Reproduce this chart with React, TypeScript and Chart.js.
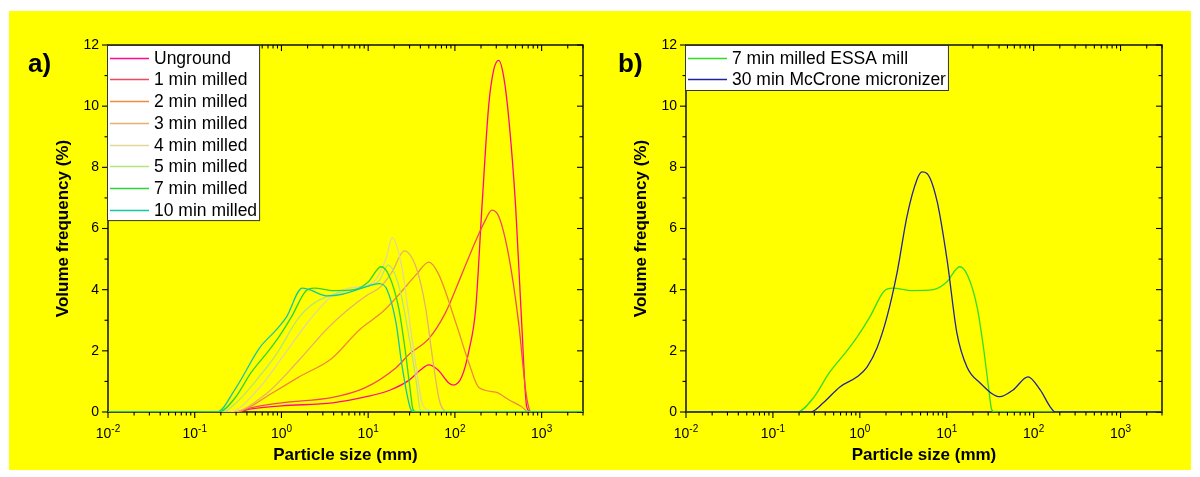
import React, { useEffect, useRef } from 'react';
import { Chart, registerables } from 'chart.js';

Chart.register(...registerables);

// ---------- data ----------
const sizeMin = 0.01;
const sizeMax = 3000;
const freqMax = 12;
const yTickValues = [0, 2, 4, 6, 8, 10, 12];
const xDecadeExponents = [-2, -1, 0, 1, 2, 3];
const xTitle = 'Particle size (mm)';
const yTitle = 'Volume frequency (%)';

// [particle size (µm), volume frequency (%)]
const unground = [[0.01, 0], [0.29, 0], [0.45, 0.1], [1.0, 0.2], [3.9, 0.3], [9.5, 0.5], [18, 0.72], [30, 1.05], [40, 1.37], [50, 1.54], [64, 1.37], [85, 0.95], [97, 0.88], [120, 1.15], [145, 2.0], [174, 3.4], [205, 6.7], [245, 10.0], [281, 11.2], [320, 11.5], [366, 10.95], [418, 9.6], [502, 6.7], [589, 2.9], [673, 0.17], [748, 0], [3000, 0]];
const min1 = [[0.01, 0], [0.3, 0], [0.43, 0.13], [1.0, 0.3], [3.9, 0.48], [9, 0.78], [21, 1.45], [30, 1.9], [50, 2.4], [78, 3.25], [120, 4.5], [174, 5.6], [227, 6.3], [266, 6.6], [320, 6.4], [418, 5.1], [544, 2.9], [655, 0.7], [709, 0.15], [760, 0], [3000, 0]];
const min2 = [[0.01, 0], [0.29, 0], [0.45, 0.2], [0.67, 0.5], [1.6, 1.15], [3.8, 1.75], [8, 2.7], [15, 3.3], [22, 3.8], [36, 4.5], [50, 4.9], [65, 4.5], [103, 2.9], [145, 1.6], [189, 0.8], [296, 0.65], [418, 0.4], [589, 0.17], [709, 0], [3000, 0]];
const min3 = [[0.01, 0], [0.27, 0], [0.67, 0.6], [1.6, 1.7], [3.3, 2.7], [5.6, 3.3], [9.5, 3.8], [14, 4.1], [19, 4.6], [26, 5.27], [36, 4.7], [46, 3.4], [55, 1.8], [66, 0.4], [75, 0.05], [85, 0], [3000, 0]];
const min4 = [[0.01, 0], [0.25, 0], [0.56, 0.8], [1.03, 1.8], [2.1, 3.0], [3.86, 3.8], [6, 4.05], [11, 4.2], [16, 5.0], [18.9, 5.7], [24.6, 4.7], [29.6, 3.1], [35.6, 1.5], [41.8, 0.3], [50, 0.05], [60, 0], [3000, 0]];
const min5 = [[0.01, 0], [0.21, 0], [0.3, 0.3], [0.5, 1.0], [0.88, 1.9], [1.6, 3.1], [2.5, 3.6], [4.6, 3.9], [7.9, 4.05], [13.4, 4.3], [17, 4.8], [22.7, 4.1], [29.6, 2.45], [35.6, 1.05], [40.6, 0], [3000, 0]];
const min7 = [[0.01, 0], [0.19, 0], [0.29, 0.45], [0.45, 1.3], [0.71, 2.0], [0.93, 2.45], [1.3, 3.1], [1.9, 3.95], [2.4, 4.05], [4.0, 3.97], [7, 4.0], [10, 4.25], [14.1, 4.75], [17.5, 4.45], [22.5, 3.4], [26.5, 2.1], [30, 0.9], [33, 0.07], [36, 0], [3000, 0]];
const min10 = [[0.01, 0], [0.18, 0], [0.3, 0.8], [0.56, 2.1], [0.88, 2.7], [1.14, 3.1], [1.74, 4.05], [2.1, 4.0], [3.29, 3.8], [5.03, 3.85], [8.5, 4.05], [13.4, 4.2], [16.5, 4.0], [21, 2.9], [24.6, 1.5], [31.2, 0.07], [34, 0], [3000, 0]];
const mccrone30 = [[0.01, 0], [0.27, 0], [0.38, 0.3], [0.59, 0.82], [0.93, 1.15], [1.21, 1.47], [1.58, 2.1], [2.05, 3.1], [2.68, 4.55], [3.49, 6.4], [4.55, 7.6], [5.2, 7.85], [5.93, 7.8], [7.73, 6.9], [10.1, 4.97], [13.1, 2.58], [17.1, 1.47], [24.2, 0.95], [41, 0.5], [58, 0.72], [86, 1.15], [119, 0.72], [155, 0.17], [176, 0], [3000, 0]];

const seriesA = [unground, min1, min2, min3, min4, min5, min7, min10];
const labelsA = ['Unground', '1 min milled', '2 min milled', '3 min milled', '4 min milled', '5 min milled', '7 min milled', '10 min milled'];
const colorsA = ['#ff0a8c', '#f2485c', '#f08a3c', '#e6b070', '#e2d69a', '#b8e27a', '#2ed62e', '#12c8a0'];

const seriesB = [min7, mccrone30];
const labelsB = ['7 min milled ESSA mill', '30 min McCrone micronizer'];
const colorsB = ['#33dd22', '#22229a'];

// ---------- drawing ----------
const FONT = "'Liberation Sans', Arial, sans-serif";

const originAxes = {
  id: 'originAxes',
  beforeDatasetsDraw(chart: any, _args: any, opts: any) {
    const ctx = chart.ctx as CanvasRenderingContext2D;
    const { left, right, top, bottom } = chart.chartArea;
    const xs = chart.scales.x;
    const ys = chart.scales.y;
    ctx.save();
    ctx.strokeStyle = '#000';
    ctx.lineWidth = 1.4;
    ctx.strokeRect(left, top, right - left, bottom - top);
    ctx.lineWidth = 1.1;
    const seg = (x1: number, y1: number, x2: number, y2: number) => {
      ctx.beginPath();
      ctx.moveTo(x1, y1);
      ctx.lineTo(x2, y2);
      ctx.stroke();
    };
    // y ticks (major + minor)
    for (let v = 0; v <= freqMax; v++) {
      const py = ys.getPixelForValue(v);
      const len = v % 2 === 0 ? 6 : 3.5;
      seg(left - len, py, left, py);
      seg(right - len, py, right, py);
    }
    // x ticks (log)
    for (const e of xDecadeExponents) {
      for (let m = 1; m <= 9; m++) {
        const v = m * Math.pow(10, e);
        if (v > sizeMax) break;
        const px = xs.getPixelForValue(v);
        const len = m === 1 ? 6 : 3.5;
        seg(px, bottom, px, bottom + len);
        seg(px, top, px, top + len);
      }
    }
    ctx.fillStyle = '#000';
    // y tick labels
    ctx.font = `14px ${FONT}`;
    ctx.textAlign = 'right';
    ctx.textBaseline = 'middle';
    for (const v of yTickValues) {
      ctx.fillText(String(v), left - 9, ys.getPixelForValue(v));
    }
    // x tick labels with superscripts
    ctx.textBaseline = 'alphabetic';
    ctx.textAlign = 'left';
    for (const e of xDecadeExponents) {
      const px = xs.getPixelForValue(Math.pow(10, e));
      ctx.font = `14px ${FONT}`;
      const wBase = ctx.measureText('10').width;
      ctx.font = `10px ${FONT}`;
      const sup = String(e);
      const wSup = ctx.measureText(sup).width;
      const x0 = px - (wBase + wSup) / 2;
      ctx.font = `14px ${FONT}`;
      ctx.fillText('10', x0, bottom + 26);
      ctx.font = `10px ${FONT}`;
      ctx.fillText(sup, x0 + wBase, bottom + 20);
    }
    // axis titles
    ctx.font = `bold 17px ${FONT}`;
    ctx.textAlign = 'center';
    ctx.fillText(xTitle, (left + right) / 2, bottom + 48);
    ctx.save();
    ctx.translate(left - 45, (top + bottom) / 2);
    ctx.rotate(-Math.PI / 2);
    ctx.textBaseline = 'middle';
    ctx.fillText(yTitle, 0, 0);
    ctx.restore();
    // panel label
    ctx.font = `bold 26px ${FONT}`;
    ctx.textAlign = 'left';
    ctx.textBaseline = 'alphabetic';
    ctx.fillText(opts.panel, left + opts.panelDx, top + 27);
    ctx.restore();
  },
  afterDatasetsDraw(chart: any, _args: any, opts: any) {
    const ctx = chart.ctx as CanvasRenderingContext2D;
    const { left, top } = chart.chartArea;
    const ds = chart.data.datasets;
    ctx.save();
    ctx.font = `17.5px ${FONT}`;
    let maxW = 0;
    for (const d of ds) maxW = Math.max(maxW, ctx.measureText(d.label).width);
    const bx = left - 1;
    const by = top;
    const textX = left + 46;
    const w = textX - bx + maxW + 2;
    const h = ds.length * opts.row + opts.extra;
    ctx.fillStyle = '#fff';
    ctx.fillRect(bx, by, w, h);
    ctx.strokeStyle = '#333';
    ctx.lineWidth = 1;
    ctx.strokeRect(bx + 0.5, by + 0.5, w, h);
    ctx.textBaseline = 'middle';
    ctx.textAlign = 'left';
    ds.forEach((d: any, i: number) => {
      const cy = Math.round(by + opts.first + i * opts.row) + 0.5;
      ctx.strokeStyle = d.borderColor;
      ctx.lineWidth = 1.5;
      ctx.beginPath();
      ctx.moveTo(left + 2, cy);
      ctx.lineTo(left + 41, cy);
      ctx.stroke();
      ctx.fillStyle = '#000';
      ctx.fillText(d.label, textX, cy + 1);
    });
    ctx.restore();
  },
};

function makeChart(canvas: HTMLCanvasElement, series: number[][][], labels: string[], colors: string[], padding: any, pluginOpts: any) {
  const n = series.length;
  return new Chart(canvas, {
    type: 'line',
    data: {
      datasets: series.map((s, i) => ({
        label: labels[i],
        data: s.map(([x, y]) => ({ x, y })),
        borderColor: colors[i],
        backgroundColor: colors[i],
        borderWidth: 1.3,
        pointRadius: 0,
        fill: false,
        cubicInterpolationMode: 'monotone' as const,
        order: n - i,
      })),
    },
    options: {
      responsive: false,
      animation: false,
      layout: { padding },
      scales: {
        x: { type: 'logarithmic', min: sizeMin, max: sizeMax, display: false },
        y: { type: 'linear', min: 0, max: freqMax, display: false },
      },
      plugins: {
        legend: { display: false },
        tooltip: { enabled: false },
        originAxes: pluginOpts,
      } as any,
    },
    plugins: [originAxes],
  } as any);
}

export default function App() {
  const refA = useRef<HTMLCanvasElement>(null);
  const refB = useRef<HTMLCanvasElement>(null);
  useEffect(() => {
    const a = makeChart(refA.current!, seriesA, labelsA, colorsA,
      { left: 99, right: 17, top: 34, bottom: 58 },
      { panel: 'a)', panelDx: -80, row: 21.7, first: 12.7, extra: 1.5 });
    const b = makeChart(refB.current!, seriesB, labelsB, colorsB,
      { left: 86, right: 29, top: 34, bottom: 58 },
      { panel: 'b)', panelDx: -68, row: 20.5, first: 13, extra: 4 });
    return () => { a.destroy(); b.destroy(); };
  }, []);
  return (
    <div style={{ position: 'fixed', left: 0, top: 0, width: 1200, height: 477, background: '#fff' }}>
      <div style={{ position: 'absolute', left: 9, top: 11, width: 1182, height: 459, background: '#ffff00' }} />
      <canvas ref={refA} width={591} height={459} style={{ position: 'absolute', left: 9, top: 11 }} />
      <canvas ref={refB} width={591} height={459} style={{ position: 'absolute', left: 600, top: 11 }} />
    </div>
  );
}
